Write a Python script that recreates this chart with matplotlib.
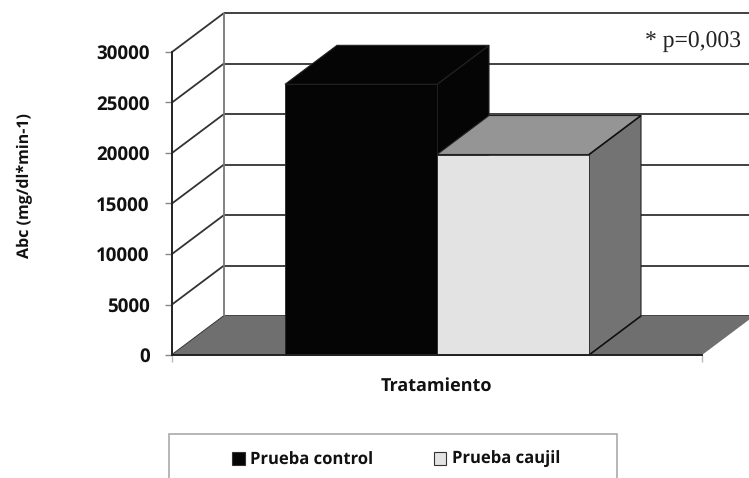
import matplotlib
matplotlib.use("Agg")
import matplotlib.pyplot as plt
from matplotlib.patches import Polygon, Patch, Rectangle

plt.rcParams["text.hinting"] = "no_hinting"

series_names = ["Prueba control", "Prueba caujil"]
series_values = [26800, 19850]
y_ticks = [0, 5000, 10000, 15000, 20000, 25000, 30000]
front_colors = ["#050505", "#e3e3e3"]
top_colors = ["#050505", "#959595"]
side_colors = ["#050505", "#737373"]
FLOOR = "#6f6f6f"

W, H = 749, 478
fig = plt.figure(figsize=(W / 100, H / 100), dpi=100, facecolor="white")
L, R, T, B = 172, 702, 52, 355
ax = fig.add_axes([L / W, 1 - B / H, (R - L) / W, (B - T) / H])
ax.set_xlim(0, 1)
ax.set_ylim(0, 30000)
ax.patch.set_visible(False)

DX = 52 / (R - L)
DY = 39 / (B - T) * 30000
BW = 152 / (R - L)
EXT = 0.2  # grid runs past the right edge of the picture


def poly(pts, fc, ec="none", lw=0.0, z=2):
    ax.add_patch(Polygon(pts, closed=True, facecolor=fc, edgecolor=ec, linewidth=lw,
                         clip_on=False, zorder=z))


def line(xs, ys, color="#333333", lw=1.3, z=1.5):
    ax.plot(xs, ys, color=color, lw=lw, clip_on=False, zorder=z, solid_capstyle="butt")


# walls and grid
for v in y_ticks:
    line([0, DX], [v, v + DY])
    line([DX, 1 + EXT], [v + DY, v + DY])
line([DX, DX], [DY, 30000 + DY], color="#777777")

# floor
poly([(0, 0), (DX, DY), (1 + DX, DY), (1, 0)], FLOOR)

# bars
x_left = [0.5 - BW, 0.5]
for i, (xl, v) in enumerate(zip(x_left, series_values)):
    xr = xl + BW
    z = 3 + i
    poly([(xr, 0), (xr + DX, DY), (xr + DX, v + DY), (xr, v)], side_colors[i], "#222222", 0.8, z)
    poly([(xl, v), (xl + DX, v + DY), (xr + DX, v + DY), (xr, v)], top_colors[i], "#222222", 0.8, z)
    poly([(xl, 0), (xr, 0), (xr, v), (xl, v)], front_colors[i], "#222222", 0.6, z + 0.5)
line([0.5 + BW, 0.5 + BW + DX], [0, DY], color="#111111", lw=1.1, z=6)
line([0.5 + BW, 0.5 + BW + DX], [series_values[1], series_values[1] + DY], color="#111111", lw=1.1, z=6)

# axes
for s in ["top", "right"]:
    ax.spines[s].set_visible(False)
for s in ["left", "bottom"]:
    ax.spines[s].set_color("#222222")
    ax.spines[s].set_linewidth(1.4)
    ax.spines[s].set_zorder(7)
ax.set_yticks(y_ticks)
ax.set_xticks([0, 1])
ax.set_xticklabels([])
ax.tick_params(axis="y", length=5, width=1, color="#888888", pad=11,
               labelsize=13.5, labelcolor="#111111")
ax.tick_params(axis="x", length=5, width=1, color="#bbbbbb")
for t in ax.get_yticklabels():
    t.set_fontfamily("Open Sans")
    t.set_fontweight("bold")

fs = dict(family="Open Sans", fontweight="bold", color="#111111")
fig.text(436 / W, 1 - 386 / H, "Tratamiento", ha="center", va="center", fontsize=13, **fs)
fig.text(25 / W, 1 - 186 / H, "Abc (mg/dl*min-1)", ha="center", va="center",
         rotation=90, fontsize=11.5, **fs)
fig.text(693.5 / W, 1 - 42 / H, "* p=0,003", ha="center", va="center", fontsize=17,
         family="Liberation Serif", color="#222222")

# legend
fig.add_artist(Rectangle((169 / W, 1 - 490 / H), 448 / W, 56 / H, transform=fig.transFigure,
                         facecolor="white", edgecolor="#aaaaaa", linewidth=1.2))
legend_x = [232, 434]
legend_y = [460, 460]
for i in range(2):
    handle = Patch(facecolor=front_colors[i], edgecolor="#333333", linewidth=0.8)
    leg = fig.legend([handle], [series_names[i]], loc="center left",
                     bbox_to_anchor=(legend_x[i] / W, 1 - legend_y[i] / H), frameon=False,
                     borderpad=0, borderaxespad=0,
                     handlelength=0.75, handleheight=0.8, handletextpad=0.36,
                     prop=dict(family="Open Sans", weight="bold", size=12))
    for t in leg.get_texts():
        t.set_color("#111111")

fig.savefig("out.png", dpi=100)
